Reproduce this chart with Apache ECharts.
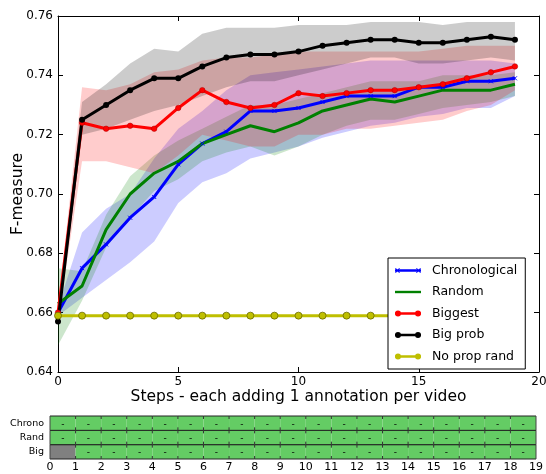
<!DOCTYPE html>
<html><head><meta charset="utf-8">
<script src="https://cdn.jsdelivr.net/npm/echarts@6/dist/echarts.min.js"></script>
<style>html,body{margin:0;padding:0;background:#fff}#c{width:546px;height:474px}</style>
</head><body><div id="c"></div><script>
// ---- data ----
const stepLabels = ['0','1','2','3','4','5','6','7','8','9','10','11','12','13','14','15','16','17','18','19','20'];
const chrono  = [0.660,0.675,0.683,0.692,0.699,0.710,0.717,0.721,0.728,0.728,0.729,0.731,0.733,0.733,0.733,0.736,0.736,0.738,0.738,0.739];
const chronoLo= [0.659,0.665,0.671,0.677,0.684,0.697,0.704,0.707,0.712,0.714,0.716,0.719,0.721,0.723,0.724,0.726,0.727,0.729,0.729,0.733];
const chronoHi= [0.662,0.687,0.695,0.700,0.712,0.722,0.728,0.735,0.740,0.741,0.742,0.743,0.744,0.745,0.745,0.745,0.745,0.745,0.745,0.744];
const random  = [0.663,0.669,0.688,0.700,0.707,0.711,0.717,0.720,0.723,0.721,0.724,0.728,0.730,0.732,0.731,0.733,0.735,0.735,0.735,0.737];
const randomLo= [0.649,0.664,0.682,0.692,0.701,0.705,0.711,0.714,0.716,0.713,0.716,0.720,0.723,0.725,0.725,0.727,0.729,0.730,0.731,0.733];
const randomHi= [0.675,0.674,0.693,0.706,0.713,0.718,0.722,0.726,0.730,0.730,0.732,0.734,0.736,0.738,0.738,0.738,0.740,0.740,0.740,0.741];
const biggest = [0.660,0.724,0.722,0.723,0.722,0.729,0.735,0.731,0.729,0.730,0.734,0.733,0.734,0.735,0.735,0.736,0.737,0.739,0.741,0.743];
const biggestLo=[0.657,0.711,0.711,0.709,0.707,0.713,0.720,0.718,0.716,0.716,0.720,0.720,0.722,0.722,0.723,0.724,0.725,0.728,0.730,0.735];
const biggestHi=[0.662,0.736,0.735,0.737,0.741,0.742,0.745,0.746,0.746,0.747,0.748,0.748,0.748,0.748,0.748,0.748,0.749,0.750,0.750,0.750];
const bigProb = [0.657,0.725,0.730,0.735,0.739,0.739,0.743,0.746,0.747,0.747,0.748,0.750,0.751,0.752,0.752,0.751,0.751,0.752,0.753,0.752];
const bigProbLo=[0.655,0.720,0.722,0.725,0.728,0.730,0.733,0.736,0.738,0.738,0.740,0.742,0.744,0.746,0.746,0.744,0.744,0.745,0.746,0.745];
const bigProbHi=[0.661,0.731,0.737,0.744,0.749,0.748,0.754,0.756,0.756,0.756,0.757,0.757,0.757,0.758,0.758,0.758,0.757,0.758,0.758,0.758];
const noProp  = [0.659,0.659,0.659,0.659,0.659,0.659,0.659,0.659,0.659,0.659,0.659,0.659,0.659,0.659,0.659,0.659,0.659,0.659,0.659,0.659];
const rowNames = ['Big','Rand','Chrono'];
const chronoCells = [1,1,1,1,1,1,1,1,1,1,1,1,1,1,1,1,1,1,1];
const randCells   = [1,1,1,1,1,1,1,1,1,1,1,1,1,1,1,1,1,1,1];
const bigCells    = [0,1,1,1,1,1,1,1,1,1,1,1,1,1,1,1,1,1,1];
const stripTicks  = [0,1,2,3,4,5,6,7,8,9,10,11,12,13,14,15,16,17,18,19];

const FONT = 'DejaVu Sans';
const chart = echarts.init(document.getElementById('c'), null, {renderer:'canvas'});

function band(key, lo, hi, color){
  return [
    {type:'line', name:key+'_lo', xAxisIndex:0, yAxisIndex:0, stack:key, data:lo, symbol:'none',
     lineStyle:{opacity:0}, silent:true, z:1},
    {type:'line', name:key+'_hi', xAxisIndex:0, yAxisIndex:0, stack:key, data:hi.map((v,i)=>+(v-lo[i]).toFixed(4)),
     symbol:'none', lineStyle:{opacity:0}, areaStyle:{color:color, opacity:1}, silent:true, z:1}
  ];
}

const cellData = [];
[bigCells, randCells, chronoCells].forEach((row, r) => row.forEach((st, i) => cellData.push([i, r, st])));

function renderCell(params, api){
  const x = api.value(0), r = api.value(1), st = api.value(2);
  const p0 = api.coord([x, r]);
  const p1 = api.coord([x+1, r]);
  const h = api.size([0,1])[1];
  const top = p0[1]-h/2, bot = p0[1]+h/2;
  const ch = [
    {type:'rect', shape:{x:p0[0], y:top, width:p1[0]-p0[0], height:h}, style:{fill: st ? '#64cc64' : '#808080'}},
    {type:'line', shape:{x1:p0[0], y1:top, x2:p1[0], y2:top}, style:{stroke:'#222', lineWidth:1}},
    {type:'line', shape:{x1:p0[0], y1:bot, x2:p1[0], y2:bot}, style:{stroke:'#222', lineWidth:1}}
  ];
  if (x > 0) {
    ch.push({type:'line', shape:{x1:p0[0], y1:top, x2:p0[0], y2:top+3}, style:{stroke:'#333', lineWidth:1}});
    ch.push({type:'line', shape:{x1:p0[0], y1:bot-3, x2:p0[0], y2:bot}, style:{stroke:'#333', lineWidth:1}});
  } else {
    ch.push({type:'line', shape:{x1:p0[0], y1:top, x2:p0[0], y2:bot}, style:{stroke:'#444', lineWidth:1}});
  }
  if (x === 18) {
    ch.push({type:'line', shape:{x1:p1[0], y1:top, x2:p1[0], y2:bot}, style:{stroke:'#444', lineWidth:1}});
  }
  if (st) {
    ch.push({type:'text', x:(p0[0]+p1[0])/2, y:p0[1]+1,
      style:{text:'-', fill:'#000', font:'9px '+FONT, align:'center', verticalAlign:'middle', textAlign:'center', textVerticalAlign:'middle'}});
  }
  return {type:'group', children:ch};
}

// legend icons (26 x 12 box): line with end markers
const LINE = 'M0,4.8H26V7.2H0Z';
function circ(cx){ return 'M'+(cx-3)+',6a3,3 0 1,1 6,0a3,3 0 1,1 -6,0Z'; }
function xmark(cx){
  const s=2.5, t=0.9, cy=6;
  return 'M'+(cx-s)+','+(cy-s)+'L'+(cx-s+t)+','+(cy-s)+'L'+(cx+s)+','+(cy+s)+'L'+(cx+s-t)+','+(cy+s)+'Z'+
         'M'+(cx+s-t)+','+(cy-s)+'L'+(cx+s)+','+(cy-s)+'L'+(cx-s+t)+','+(cy+s)+'L'+(cx-s)+','+(cy+s)+'Z';
}
const ICON_X = 'path://'+LINE+xmark(2.5)+xmark(23.5);
const ICON_LINE = 'path://'+LINE;
const ICON_DOT = 'path://'+LINE+circ(3)+circ(23);

const lineBase = {type:'line', xAxisIndex:0, yAxisIndex:0, z:3};
const option = {
  animation:false,
  backgroundColor:'#fff',
  textStyle:{fontFamily:FONT},
  grid:[
    {left:58, top:16, width:481, height:356, containLabel:false, outerBoundsMode:'none'},
    {left:50, top:416, width:486, height:43, containLabel:false, outerBoundsMode:'none'}
  ],
  legend:{
    data:[
      {name:'Chronological', icon:ICON_X},
      {name:'Random', icon:ICON_LINE},
      {name:'Biggest', icon:ICON_DOT},
      {name:'Big prob', icon:ICON_DOT},
      {name:'No prop rand', icon:ICON_DOT}
    ],
    orient:'vertical', left:388, top:258, symbolKeepAspect:true,
    backgroundColor:'#fff', borderColor:'#000', borderWidth:1,
    padding:[6,8,6,7], itemGap:8.5, itemWidth:26, itemHeight:12,
    itemStyle:{borderWidth:0},
    textStyle:{fontFamily:FONT, fontSize:12.5, color:'#000', padding:[0,0,0,6]}
  },
  xAxis:[
    {type:'category', gridIndex:0, data:stepLabels, boundaryGap:false, position:'bottom',
     axisLine:{lineStyle:{color:'#000', width:1}}, axisTick:{inside:true, interval:4, length:5, lineStyle:{color:'#000'}},
     axisLabel:{interval:4, fontSize:12, color:'#000', fontFamily:FONT, margin:4},
     splitLine:{show:false},
     name:'Steps - each adding 1 annotation per video', nameLocation:'middle', nameGap:17, nameMoveOverlap:false,
     nameTextStyle:{fontSize:15.5, color:'#000', fontFamily:FONT}},
    {type:'category', gridIndex:0, data:stepLabels, boundaryGap:false, position:'top',
     axisLine:{lineStyle:{color:'#000', width:1}}, axisTick:{inside:true, interval:4, length:5, lineStyle:{color:'#000'}},
     axisLabel:{show:false}, splitLine:{show:false}},
    {type:'value', gridIndex:1, min:0, max:19, interval:1,
     axisLine:{show:false}, axisTick:{show:false}, splitLine:{show:false},
     axisLabel:{fontSize:11, color:'#000', fontFamily:FONT, margin:3,
       formatter:(v)=> stripTicks.indexOf(v) >= 0 ? String(v) : ''}}
  ],
  yAxis:[
    {type:'value', gridIndex:0, min:0.64, max:0.76, interval:0.02, position:'left',
     axisLine:{show:true, lineStyle:{color:'#000', width:1}}, axisTick:{show:true, inside:true, length:5, lineStyle:{color:'#000'}},
     axisLabel:{fontSize:12, color:'#000', fontFamily:FONT, margin:5, formatter:(v)=>v.toFixed(2)},
     splitLine:{show:false},
     name:'F-measure', nameLocation:'middle', nameGap:32, nameMoveOverlap:false,
     nameTextStyle:{fontSize:15.5, color:'#000', fontFamily:FONT}},
    {type:'value', gridIndex:0, min:0.64, max:0.76, interval:0.02, position:'right',
     axisLine:{show:true, lineStyle:{color:'#000', width:1}}, axisTick:{show:true, inside:true, length:5, lineStyle:{color:'#000'}},
     axisLabel:{show:false}, splitLine:{show:false}},
    {type:'category', gridIndex:1, data:rowNames, inverse:false,
     axisLine:{show:false}, axisTick:{show:false}, splitLine:{show:false},
     axisLabel:{fontSize:9.5, color:'#000', fontFamily:FONT, margin:6}}
  ],
  series:[
    ...band('chrono', chronoLo, chronoHi, 'rgba(0,0,255,0.2)'),
    ...band('random', randomLo, randomHi, 'rgba(0,128,0,0.2)'),
    ...band('biggest', biggestLo, biggestHi, 'rgba(255,0,0,0.2)'),
    ...band('bigprob', bigProbLo, bigProbHi, 'rgba(0,0,0,0.2)'),
    Object.assign({}, lineBase, {name:'Chronological', data:chrono, color:'#0000ff',
      symbol:'path://M0,0L10,10M10,0L0,10', symbolSize:4,
      itemStyle:{color:'#0000ff', borderColor:'#0000ff', borderWidth:1},
      lineStyle:{color:'#0000ff', width:3}}),
    Object.assign({}, lineBase, {name:'Random', data:random, color:'#008000', symbol:'none',
      lineStyle:{color:'#008000', width:3}}),
    Object.assign({}, lineBase, {name:'Biggest', data:biggest, color:'#ff0000', symbol:'circle', symbolSize:5.5,
      itemStyle:{color:'#ff0000', borderColor:'#aa0000', borderWidth:0.5},
      lineStyle:{color:'#ff0000', width:3}}),
    Object.assign({}, lineBase, {name:'Big prob', data:bigProb, color:'#000000', symbol:'circle', symbolSize:6,
      itemStyle:{color:'#000000'},
      lineStyle:{color:'#000000', width:3}}),
    Object.assign({}, lineBase, {name:'No prop rand', data:noProp, color:'#bfbf00', symbol:'circle', symbolSize:7,
      itemStyle:{color:'#bfbf00', borderColor:'#6b6b00', borderWidth:0.8},
      lineStyle:{color:'#bfbf00', width:3}}),
    {type:'custom', xAxisIndex:2, yAxisIndex:2, data:cellData, renderItem:renderCell, silent:true}
  ]
};
chart.setOption(option);
</script></body></html>
